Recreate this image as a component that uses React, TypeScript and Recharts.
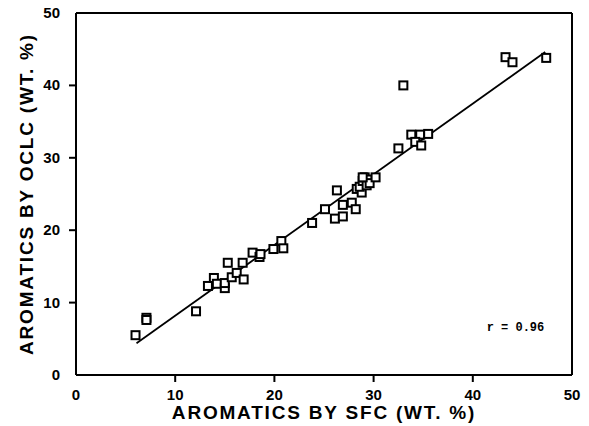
import React from 'react';
import { ScatterChart, Scatter, XAxis, YAxis, ReferenceLine, ReferenceDot } from 'recharts';

const sfc = [6.0, 7.1, 7.1, 12.1, 13.3, 13.9, 14.2, 15.0, 15.0, 15.7, 16.2, 16.9, 15.3, 16.8, 17.8, 18.5, 18.6, 19.9, 20.7, 20.9, 23.8, 25.1, 26.3, 26.1, 26.9, 26.9, 27.8, 28.2, 28.3, 28.8, 28.6, 28.9, 29.1, 29.4, 29.3, 29.6, 28.9, 30.2, 32.5, 33.0, 33.8, 34.7, 35.5, 34.2, 34.8, 43.3, 44.0, 47.4];
const oclc = [5.5, 7.9, 7.6, 8.8, 12.3, 13.4, 12.6, 12.0, 12.7, 13.5, 14.1, 13.2, 15.5, 15.5, 16.9, 16.3, 16.7, 17.4, 18.5, 17.5, 21.0, 22.9, 25.5, 21.6, 23.5, 21.9, 23.8, 22.9, 25.7, 25.2, 26.0, 26.8, 27.3, 27.0, 26.2, 26.5, 27.3, 27.3, 31.3, 40.0, 33.2, 33.2, 33.3, 32.2, 31.7, 43.9, 43.2, 43.8];
const fitX = [6.1, 47.3];
const fitY = [4.4, 44.6];
const ticks = [0, 10, 20, 30, 40, 50];
const rLabel = 'r = 0.96';
const rPos = { x: 44.3, y: 6.6 };

const points = sfc.map((x, i) => ({ x, y: oclc[i] }));
const fitLine = fitX.map((x, i) => ({ x, y: fitY[i] }));

const FONT = '"Liberation Sans", Arial, sans-serif';

const Square = (props: any) => {
  const { cx, cy } = props;
  if (cx == null || cy == null) return null;
  const s = 8;
  return <rect x={cx - s / 2} y={cy - s / 2} width={s} height={s} fill="white" stroke="black" strokeWidth={2} />;
};

const XTick = (props: any) => {
  const { x, y, payload } = props;
  return (
    <g>
      {payload.value !== 0 && payload.value !== 50 && (
        <line x1={x} x2={x} y1={y - 1} y2={y - 8} stroke="black" strokeWidth={2} />
      )}
      <text x={x} y={y + 17} textAnchor="middle" fontFamily={FONT} fontWeight="bold" fontSize={15} fill="black">
        {payload.value}
      </text>
    </g>
  );
};

const YTick = (props: any) => {
  const { x, y, payload } = props;
  return (
    <g>
      {payload.value !== 0 && payload.value !== 50 && (
        <line x1={x + 1} x2={x + 8} y1={y} y2={y} stroke="black" strokeWidth={2} />
      )}
      <text x={x - 8} y={y + 5} textAnchor="end" fontFamily={FONT} fontWeight="bold" fontSize={15} fill="black">
        {payload.value}
      </text>
    </g>
  );
};

export default function App() {
  return (
    <div style={{ position: 'absolute', left: 0, top: 0, background: 'white' }}>
      <ScatterChart width={589} height={426} margin={{ top: 13, right: 17, left: 0, bottom: 0 }}>
        <XAxis
          type="number"
          dataKey="x"
          domain={[0, 50]}
          ticks={ticks}
          tick={<XTick />}
          tickLine={false}
          axisLine={{ stroke: 'black', strokeWidth: 2 }}
          height={51}
          label={{ value: 'AROMATICS BY SFC (WT. %)', position: 'insideBottom', offset: 7, fontFamily: FONT, fontWeight: 'bold', fontSize: 19, fill: 'black', letterSpacing: 1.8 }}
        />
        <YAxis
          type="number"
          dataKey="y"
          domain={[0, 50]}
          ticks={ticks}
          tick={<YTick />}
          tickLine={false}
          axisLine={{ stroke: 'black', strokeWidth: 2 }}
          width={76}
          label={{ value: 'AROMATICS BY OCLC (WT. %)', angle: -90, position: 'insideLeft', offset: 26, fontFamily: FONT, fontWeight: 'bold', fontSize: 19, fill: 'black', letterSpacing: 1.8, style: { textAnchor: 'middle' } }}
        />
        <ReferenceLine y={50} stroke="black" strokeWidth={2} />
        <ReferenceLine x={50} stroke="black" strokeWidth={2} />
        <Scatter data={fitLine} line={{ stroke: 'black', strokeWidth: 1.8 }} shape={() => null} isAnimationActive={false} />
        <Scatter data={points} shape={<Square />} isAnimationActive={false} />
        <ReferenceDot
          x={rPos.x}
          y={rPos.y}
          r={0}
          stroke="none"
          fill="none"
          label={{ value: rLabel, position: 'center', fontFamily: '"Liberation Mono", "DejaVu Sans Mono", monospace', fontWeight: 'bold', fontSize: 12, fill: 'black' }}
        />
      </ScatterChart>
    </div>
  );
}
